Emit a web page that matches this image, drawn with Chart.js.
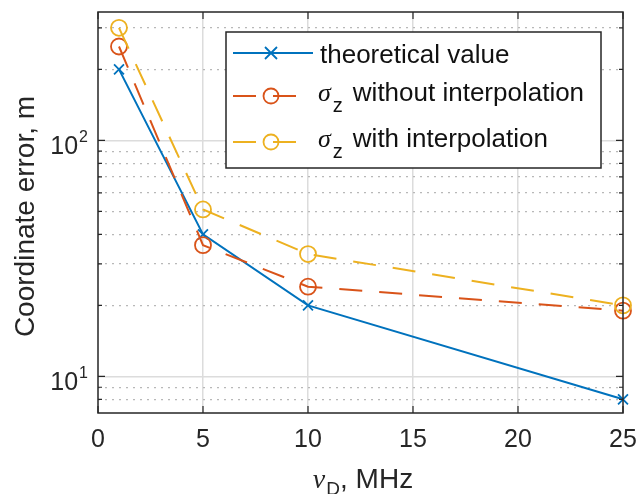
<!DOCTYPE html>
<html>
<head>
<meta charset="utf-8">
<script src="https://cdn.jsdelivr.net/npm/chart.js@4.4.1/dist/chart.umd.min.js"></script>
<style>
  html, body { margin: 0; padding: 0; background: #fff; }
  #wrap { width: 636px; height: 494px; position: relative; }
</style>
</head>
<body>
<div id="wrap"><canvas id="chart" width="636" height="494"></canvas></div>
<script>
// Data
const freqMHz = [1, 5, 10, 25];
const theoretical = [200, 40, 20, 8];
const sigmaNoInterp = [250, 36, 24, 19];
const sigmaInterp = [300, 51, 33, 20];

const xTickValues = [0, 5, 10, 15, 20, 25];
const yDecades = [10, 100];
const yMinor = [8, 9, 20, 30, 40, 50, 60, 70, 80, 90, 200, 300];

const legendLabels = ['theoretical value', 'without interpolation', 'with interpolation'];

const BLUE = '#0072BD';
const RED = '#D95319';
const YELLOW = '#EDB120';
const FONT = '"Liberation Sans", Arial, Helvetica, sans-serif';

const toPoints = (ys) => freqMHz.map((x, i) => ({ x: x, y: ys[i] }));

// Box, inward ticks, tick labels, axis titles and legend (MATLAB look)
const matlabDecor = {
    id: 'matlabDecor',
    afterDraw(chart) {
        const { ctx, chartArea: a, scales } = chart;
        const xs = scales.x, ys = scales.y;
        ctx.save();

        // axes box
        ctx.strokeStyle = '#262626';
        ctx.lineWidth = 1.5;
        ctx.strokeRect(a.left, a.top, a.right - a.left, a.bottom - a.top);

        // inward ticks
        ctx.lineWidth = 1.2;
        ctx.beginPath();
        xTickValues.forEach(v => {
            const px = xs.getPixelForValue(v);
            ctx.moveTo(px, a.bottom); ctx.lineTo(px, a.bottom - 7);
            ctx.moveTo(px, a.top); ctx.lineTo(px, a.top + 7);
        });
        yDecades.forEach(v => {
            const py = ys.getPixelForValue(v);
            ctx.moveTo(a.left, py); ctx.lineTo(a.left + 7, py);
            ctx.moveTo(a.right, py); ctx.lineTo(a.right - 7, py);
        });
        yMinor.forEach(v => {
            const py = ys.getPixelForValue(v);
            ctx.moveTo(a.left, py); ctx.lineTo(a.left + 4, py);
            ctx.moveTo(a.right, py); ctx.lineTo(a.right - 4, py);
        });
        ctx.stroke();

        // x tick labels
        ctx.fillStyle = '#262626';
        ctx.font = '25px ' + FONT;
        ctx.textAlign = 'center';
        ctx.textBaseline = 'alphabetic';
        xTickValues.forEach(v => {
            ctx.fillText(String(v), xs.getPixelForValue(v), a.bottom + 34);
        });

        // y tick labels 10^n
        yDecades.forEach(v => {
            const py = ys.getPixelForValue(v);
            const exp = String(Math.round(Math.log10(v)));
            ctx.font = '16px ' + FONT;
            ctx.textAlign = 'right';
            ctx.fillText(exp, 88, py + 2);
            const ew = ctx.measureText(exp).width;
            ctx.font = '25px ' + FONT;
            ctx.fillText('10', 88 - ew - 1, py + 14);
        });

        // y title
        ctx.save();
        ctx.translate(34, (a.top + a.bottom) / 2 + 4);
        ctx.rotate(-Math.PI / 2);
        ctx.font = '28px ' + FONT;
        ctx.textAlign = 'center';
        ctx.fillText('Coordinate error, m', 0, 0);
        ctx.restore();

        // x title: nu_D, MHz
        {
            const base = 488;
            ctx.textAlign = 'left';
            const nu = 'ν';
            ctx.font = 'italic 28px "Liberation Serif", serif';
            const wNu = ctx.measureText(nu).width;
            ctx.font = '19px ' + FONT;
            const wD = ctx.measureText('D').width;
            ctx.font = '28px ' + FONT;
            const wRest = ctx.measureText(', MHz').width;
            let x0 = (a.left + a.right) / 2 - (wNu + wD + wRest) / 2 + 2;
            ctx.font = 'italic 28px "Liberation Serif", serif';
            ctx.fillText(nu, x0, base);
            x0 += wNu + 1;
            ctx.font = '19px ' + FONT;
            ctx.fillText('D', x0, base + 7);
            x0 += wD;
            ctx.font = '28px ' + FONT;
            ctx.fillText(', MHz', x0, base);
        }

        // legend
        const L = { left: 226, top: 32, right: 601, bottom: 168 };
        ctx.fillStyle = '#fff';
        ctx.fillRect(L.left, L.top, L.right - L.left, L.bottom - L.top);
        ctx.strokeStyle = '#262626';
        ctx.lineWidth = 1.5;
        ctx.strokeRect(L.left, L.top, L.right - L.left, L.bottom - L.top);

        const rows = [53, 96, 142];
        chart.data.datasets.forEach((ds, i) => {
            const y = rows[i];
            ctx.strokeStyle = ds.borderColor;
            ctx.lineWidth = 2;
            ctx.setLineDash(ds.borderDash && ds.borderDash.length ? [23, 17] : []);
            ctx.lineDashOffset = 0;
            ctx.beginPath();
            ctx.moveTo(233, y);
            ctx.lineTo(313, y);
            ctx.stroke();
            ctx.setLineDash([]);
            const mx = 271;
            ctx.lineWidth = 1.8;
            ctx.beginPath();
            if (ds.pointStyle === 'crossRot') {
                const r = 6;
                ctx.moveTo(mx - r, y - r); ctx.lineTo(mx + r, y + r);
                ctx.moveTo(mx - r, y + r); ctx.lineTo(mx + r, y - r);
            } else {
                ctx.arc(mx, y, 7.5, 0, Math.PI * 2);
            }
            ctx.stroke();

            ctx.fillStyle = '#111';
            ctx.textAlign = 'left';
            if (i === 0) {
                ctx.font = '26px ' + FONT;
                ctx.fillText(legendLabels[0], 320, y + 10);
            } else {
                let tx = 318;
                ctx.font = 'italic 26px "Liberation Serif", serif';
                ctx.fillText('σ', tx, y + 5);
                tx += ctx.measureText('σ').width + 2;
                ctx.font = '20px ' + FONT;
                ctx.fillText('z', tx, y + 16);
                tx += ctx.measureText('z').width + 10;
                ctx.font = '26px ' + FONT;
                ctx.fillText(legendLabels[i], tx, y + 5);
            }
        });

        ctx.restore();
    }
};

const isDecade = (v) => yDecades.includes(v);
const isMinor = (v) => yMinor.includes(v);

new Chart(document.getElementById('chart'), {
    type: 'line',
    data: {
        datasets: [
            {
                label: 'theoretical value',
                data: toPoints(theoretical),
                borderColor: BLUE,
                borderWidth: 2,
                pointStyle: 'crossRot',
                pointRadius: 7,
                pointBorderWidth: 1.8,
                pointBorderColor: BLUE,
                pointBackgroundColor: BLUE,
                borderDash: [],
                tension: 0,
                clip: false,
                order: 3
            },
            {
                label: 'sigma_z without interpolation',
                data: toPoints(sigmaNoInterp),
                borderColor: RED,
                borderWidth: 2,
                borderDash: [23, 17],
                pointStyle: 'circle',
                pointRadius: 8,
                pointBorderWidth: 1.8,
                pointBorderColor: RED,
                pointBackgroundColor: 'rgba(0,0,0,0)',
                tension: 0,
                clip: false,
                order: 2
            },
            {
                label: 'sigma_z with interpolation',
                data: toPoints(sigmaInterp),
                borderColor: YELLOW,
                borderWidth: 2,
                borderDash: [23, 17],
                pointStyle: 'circle',
                pointRadius: 8,
                pointBorderWidth: 1.8,
                pointBorderColor: YELLOW,
                pointBackgroundColor: 'rgba(0,0,0,0)',
                tension: 0,
                clip: false,
                order: 1
            }
        ]
    },
    options: {
        responsive: false,
        animation: false,
        events: [],
        layout: { padding: { top: 12, right: 13, left: 0, bottom: 0 } },
        plugins: {
            legend: { display: false },
            tooltip: { enabled: false }
        },
        scales: {
            x: {
                type: 'linear',
                min: 0,
                max: 25,
                afterFit: (s) => { s.height = 81; },
                afterBuildTicks: (s) => { s.ticks = xTickValues.map(v => ({ value: v })); },
                ticks: { display: false, autoSkip: false },
                border: { display: false },
                grid: {
                    drawTicks: false,
                    lineWidth: 1.5,
                    color: (c) => (c.tick && (c.tick.value === 0 || c.tick.value === 25)) ? 'rgba(0,0,0,0)' : '#dcdcdc'
                }
            },
            y: {
                type: 'logarithmic',
                min: 7,
                max: 350,
                afterFit: (s) => { s.width = 98; },
                afterBuildTicks: (s) => {
                    s.ticks = yMinor.concat(yDecades).sort((p, q) => p - q).map(v => ({ value: v }));
                },
                ticks: { display: false, autoSkip: false },
                border: {
                    display: false,
                    dash: (c) => (c.tick && isDecade(c.tick.value)) ? [] : [2, 5]
                },
                grid: {
                    drawTicks: false,
                    lineWidth: (c) => (c.tick && isDecade(c.tick.value)) ? 1.5 : 1.2,
                    color: (c) => {
                        if (!c.tick) return 'rgba(0,0,0,0)';
                        if (isDecade(c.tick.value)) return '#dcdcdc';
                        if (isMinor(c.tick.value)) return '#b8b8b8';
                        return 'rgba(0,0,0,0)';
                    }
                }
            }
        }
    },
    plugins: [matlabDecor]
});
</script>
</body>
</html>
